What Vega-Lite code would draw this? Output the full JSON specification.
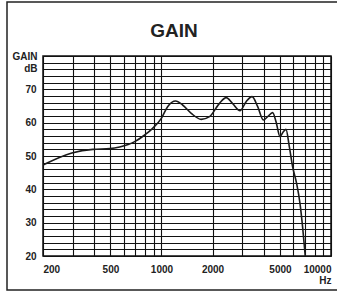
{
  "$schema": "https://vega.github.io/schema/vega-lite/v6.json",
  "width": 288,
  "height": 200,
  "autosize": {"type": "none"},
  "padding": {"left": 43, "top": 56, "right": 6, "bottom": 37},
  "background": "white",
  "title": {
    "text": "GAIN",
    "font": "Liberation Sans",
    "fontWeight": "bold",
    "fontSize": 19,
    "color": "#222",
    "anchor": "middle",
    "baseline": "alphabetic",
    "dx": -13,
    "offset": -55
  },
  "config": {
    "view": {"stroke": "#111", "strokeWidth": 1.5},
    "axis": {
      "labelFont": "Liberation Sans",
      "labelFontWeight": "bold",
      "labelFontSize": 10,
      "labelColor": "#222",
      "titleFont": "Liberation Sans",
      "titleFontWeight": "bold",
      "titleColor": "#222",
      "gridColor": "#111",
      "gridOpacity": 1,
      "gridWidth": 1.1,
      "ticks": false,
      "domain": false
    }
  },
  "layer": [
    {
      "data": {
        "values": [
          {"f": 200, "db": 47.3},
          {"f": 296, "db": 50.9},
          {"f": 394, "db": 52.0},
          {"f": 496, "db": 52.2},
          {"f": 567, "db": 52.7},
          {"f": 695, "db": 54.3},
          {"f": 796, "db": 56.3},
          {"f": 887, "db": 58.3},
          {"f": 998, "db": 61.3},
          {"f": 1087, "db": 64.8},
          {"f": 1212, "db": 66.5},
          {"f": 1332, "db": 65.3},
          {"f": 1498, "db": 62.8},
          {"f": 1716, "db": 61.0},
          {"f": 1920, "db": 61.8},
          {"f": 2199, "db": 65.8},
          {"f": 2408, "db": 67.5},
          {"f": 2622, "db": 65.8},
          {"f": 2910, "db": 63.6},
          {"f": 3157, "db": 66.3},
          {"f": 3424, "db": 67.8},
          {"f": 3695, "db": 64.8},
          {"f": 3990, "db": 60.8},
          {"f": 4230, "db": 61.8},
          {"f": 4527, "db": 63.0},
          {"f": 4740, "db": 60.3},
          {"f": 5003, "db": 55.8},
          {"f": 5232, "db": 57.3},
          {"f": 5427, "db": 58.0},
          {"f": 5677, "db": 52.8},
          {"f": 5935, "db": 46.8},
          {"f": 6266, "db": 41.8},
          {"f": 6562, "db": 35.8},
          {"f": 6797, "db": 28.8},
          {"f": 7050, "db": 20.0}
        ]
      },
      "mark": {"type": "line", "interpolate": "monotone", "color": "#1a1a1a", "strokeWidth": 1.6, "clip": true},
      "encoding": {
        "x": {
          "field": "f",
          "type": "quantitative",
          "scale": {"type": "log", "domain": [200, 10000], "nice": false},
          "axis": {
            "values": [200, 300, 400, 500, 600, 700, 800, 900, 1000, 2000, 3000, 4000, 5000, 6000, 7000, 8000, 9000, 10000],
            "labelExpr": "indexof([200,500,1000,2000,5000,10000], datum.value) >= 0 ? datum.value : ''",
            "labelFlush": true,
            "labelOverlap": false,
            "labelPadding": 8,
            "title": "Hz",
            "titleFontSize": 10,
            "titleAnchor": "end",
            "titleAlign": "right",
            "titleBaseline": "top",
            "titleX": 288,
            "titleY": 19
          }
        },
        "y": {
          "field": "db",
          "type": "quantitative",
          "scale": {"domain": [20, 80], "nice": false, "zero": false},
          "axis": {
            "values": [20, 22, 24, 26, 28, 30, 32, 34, 36, 38, 40, 42, 44, 46, 48, 50, 52, 54, 56, 58, 60, 62, 64, 66, 68, 70, 72, 74, 76, 78, 80],
            "labelExpr": "datum.value % 10 === 0 && datum.value < 80 ? datum.value : ''",
            "labelOverlap": false,
            "labelPadding": 7,
            "title": ["GAIN", "dB"],
            "titleFontSize": 10,
            "titleAngle": 0,
            "titleAlign": "right",
            "titleBaseline": "top",
            "titleLineHeight": 12,
            "titleX": -6,
            "titleY": -5
          }
        }
      }
    },
    {
      "data": {"values": [{}]},
      "mark": {"type": "rect", "fill": null, "stroke": "#222", "strokeWidth": 1.5, "clip": false},
      "encoding": {
        "x": {"value": -36},
        "x2": {"value": 300},
        "y": {"value": -54},
        "y2": {"value": 234}
      }
    }
  ]
}
